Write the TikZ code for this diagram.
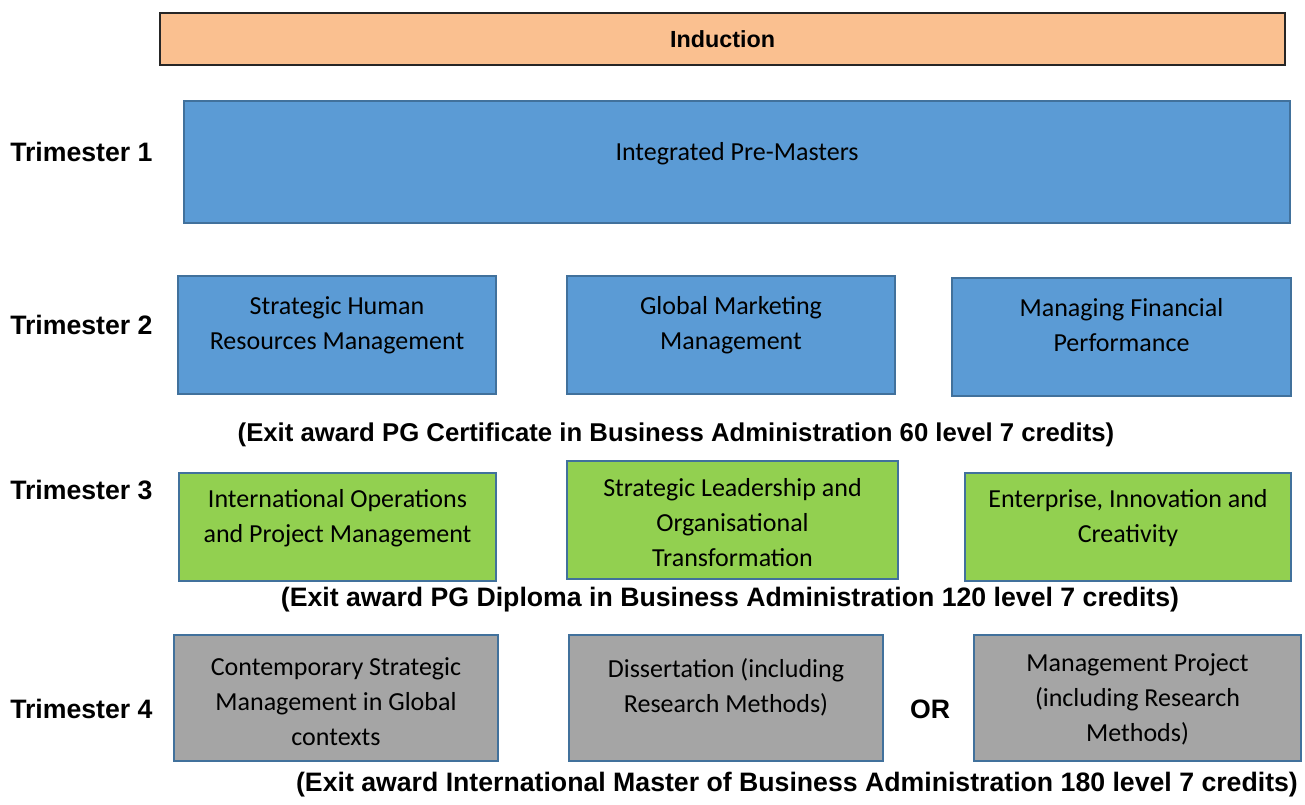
\documentclass[tikz,border=0pt]{standalone}
\usepackage{fontspec}
\setmainfont{Carlito}
\newfontfamily\arialfont{Liberation Sans}
\usetikzlibrary{%
	positioning
}
\definecolor{inductOrange}{HTML}{FAC090}
\definecolor{modBlue}{HTML}{5B9BD5}
\definecolor{modGreen}{HTML}{92D050}
\definecolor{modGrey}{HTML}{A5A5A5}
\definecolor{edgeBlue}{HTML}{41719C}

\begin{document}
\begin{tikzpicture}[
		x=0.75pt,y=-0.75pt,
		Module/.style={draw=edgeBlue,line width=1.5pt,shape=rectangle,anchor=north west,inner sep=0pt},
		ModuleText/.style={font=\fontsize{19.5}{26.25}\selectfont,align=center,inner sep=0pt,anchor=north},
		term/.style={font=\arialfont\bfseries\fontsize{20}{24}\selectfont,anchor=west,inner sep=0pt},
		award/.style={font=\arialfont\bfseries\fontsize{20}{24}\selectfont,inner sep=0pt},
		induct/.style={draw=black!85,line width=1.1pt,fill=inductOrange,font=\arialfont\bfseries\fontsize{17.5}{21}\selectfont,minimum width=843.75pt,minimum height=39pt,inner sep=0pt}
	]
	
	\useasboundingbox (0,0) rectangle (1305,805);
	
	\node(induction) [induct] at (722.5,39) {Induction};
	
	%Trimester 1
	\node(T1) [term] at (10,152) {Trimester 1};
	\node(premasters) [Module, fill=modBlue, minimum width=829.5pt, minimum height=91.5pt] at (183,100) {};
	\node(premasters-txt) [ModuleText, below=32pt of premasters.north] {Integrated Pre-Masters};
	
	%Trimester 2
	\node(T2) [term] at (10,325) {Trimester 2};
	\node(shrm) [Module, fill=modBlue, minimum width=238.5pt, minimum height=88.5pt] at (177,275) {};
	\node(shrm-txt) [ModuleText, below=16pt of shrm.north] {Strategic Human\\Resources Management};
	\node(gmm) [Module, fill=modBlue, minimum width=246pt, minimum height=88.5pt] at (566,275) {};
	\node(gmm-txt) [ModuleText, below=16pt of gmm.north] {Global Marketing\\Management};
	\node(mfp) [Module, fill=modBlue, minimum width=254.25pt, minimum height=88.5pt] at (951,277) {};
	\node(mfp-txt) [ModuleText, below=16pt of mfp.north] {Managing Financial\\Performance};
	
	\node(cert) [award, font=\arialfont\bfseries\fontsize{19.3}{24}\selectfont] at (676,435) {(Exit award PG Certificate in Business Administration 60 level 7 credits)};
	
	%Trimester 3
	\node(T3) [term] at (10,490) {Trimester 3};
	\node(iopm) [Module, fill=modGreen, minimum width=237.75pt, minimum height=81pt] at (178,472) {};
	\node(iopm-txt) [ModuleText, below=13pt of iopm.north] {International Operations\\and Project Management};
	\node(slot) [Module, fill=modGreen, minimum width=248.25pt, minimum height=88.5pt] at (566,460) {};
	\node(slot-txt) [ModuleText, below=13.5pt of slot.north] {Strategic Leadership and\\Organisational\\Transformation};
	\node(eic) [Module, fill=modGreen, minimum width=244.5pt, minimum height=81pt] at (964,472) {};
	\node(eic-txt) [ModuleText, below=13pt of eic.north] {Enterprise, Innovation and\\Creativity};
	
	\node(dipl) [award] at (730,600) {(Exit award PG Diploma in Business Administration 120 level 7 credits)};
	
	%Trimester 4
	\node(T4) [term] at (10,709) {Trimester 4};
	\node(csm) [Module, fill=modGrey, minimum width=243pt, minimum height=94.5pt] at (173,634) {};
	\node(csm-txt) [ModuleText, below=17.5pt of csm.north] {Contemporary Strategic\\Management in Global\\contexts};
	\node(diss) [Module, fill=modGrey, minimum width=235.5pt, minimum height=94.5pt] at (568,634) {};
	\node(diss-txt) [ModuleText, below=18.25pt of diss.north] {Dissertation (including\\Research Methods)};
	\node(or) [award] at (930,709) {OR};
	\node(mproj) [Module, fill=modGrey, minimum width=245.25pt, minimum height=94.5pt] at (973,634) {};
	\node(mproj-txt) [ModuleText, below=14.5pt of mproj.north] {Management Project\\(including Research\\Methods)};
	
	\node(master) [award] at (797,785) {(Exit award International Master of Business Administration 180 level 7 credits)};
	
\end{tikzpicture}
\end{document}
